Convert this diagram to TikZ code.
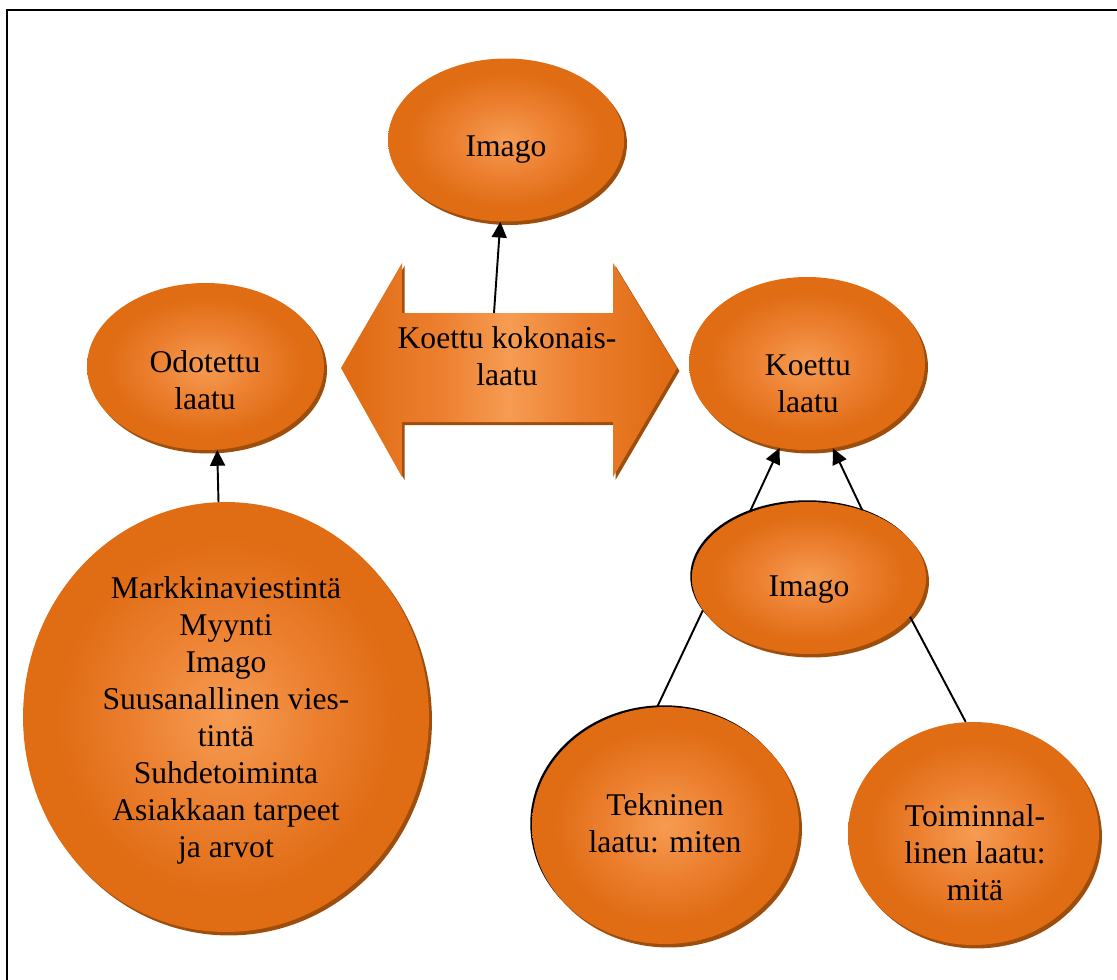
\documentclass[tikz,border=0pt]{standalone}
\usepackage{fontspec}
\setmainfont{Liberation Serif}
\usetikzlibrary{shapes.geometric,shadows,arrows.meta}

\definecolor{olight}{RGB}{246,156,82}
\definecolor{omid}{RGB}{236,128,48}
\definecolor{odark}{RGB}{224,108,20}
\definecolor{oshadow}{RGB}{158,78,12}

% light centre fading to a deep orange rim
\pgfdeclareradialshading{orangeball}{\pgfpoint{0bp}{0bp}}{%
  color(0bp)=(olight); color(11bp)=(omid); color(21bp)=(odark);
  color(25bp)=(odark); color(50bp)=(odark)}
% light middle, dark ends, for the two-way arrow
\pgfdeclarehorizontalshading{arrowglow}{100bp}{%
  color(0bp)=(odark); color(27bp)=(odark); color(40bp)=(omid);
  color(50bp)=(olight); color(60bp)=(omid); color(73bp)=(odark);
  color(100bp)=(odark)}

\begin{document}
\begin{tikzpicture}[x=0.02cm,y=-0.02cm,
  bubble/.style={ellipse, inner sep=0pt, shade, shading=orangeball,
    general shadow={fill=oshadow, shadow xshift=0.06cm, shadow yshift=-0.07cm}},
  inked/.style={general shadow={fill=black, shadow xshift=-0.035cm, shadow yshift=0.035cm}},
  bubbletext/.style={font=\fontsize{18}{21}\selectfont, align=center,
    inner sep=0pt, anchor=base},
  link/.style={line width=1.1pt, black},
  arrowlink/.style={link, -{Triangle[length=9pt,width=8.5pt]}}]

\useasboundingbox (0,0) rectangle (1117,980);
\clip (0,0) rectangle (1117,980);

% frame (runs off the page on the right and at the bottom)
\draw[line width=1pt] (7,10) rectangle (1140,1000);

% two-way arrow in the middle
\path[shade, shading=arrowglow,
      preaction={fill=oshadow, transform canvas={shift={(2.5,3)}}}]
  (341,368) -- (402,263) -- (402,313) -- (613,313) -- (613,263)
  -- (677,368) -- (613,477) -- (613,422) -- (402,422) -- (402,477) -- cycle;
\coordinate (shafttop) at (494,313);

% bubbles
\node[bubble, minimum width=4.72cm, minimum height=3.26cm] (imgtop)   at (506,140) {};
\node[bubble, minimum width=4.74cm, minimum height=3.34cm] (odot)     at (205.5,366.5) {};
\node[bubble, minimum width=8.12cm, minimum height=8.6cm]  (big)      at (226,717) {};
\node[bubble, minimum width=4.72cm, minimum height=3.46cm] (koettu)   at (807,363.5) {};
\node[bubble, inked, minimum width=4.68cm, minimum height=3.04cm] (imgright) at (809,578) {};
\node[bubble, inked, minimum width=5.34cm, minimum height=4.74cm] (tekn)     at (665.5,825.5) {};
\node[bubble, minimum width=5.02cm, minimum height=4.46cm] (toim)     at (973.5,833.5) {};

% texts (anchored on the baseline of their last line)
\node[bubbletext] (t-imgtop)   at (506,157) {Imago};
\node[bubbletext] (t-odot)     at (205,409) {Odotettu\\laatu};
\node[bubbletext] (t-arrow)    at (507,385) {Koettu kokonais-\\laatu};
\node[bubbletext] (t-koettu)   at (808,412) {Koettu\\laatu};
\node[bubbletext] (t-imgright) at (809,596) {Imago};
\node[bubbletext] (t-big)      at (226,857) {Markkinaviestintä\\Myynti\\Imago\\Suusanallinen vies-\\tintä\\Suhdetoiminta\\Asiakkaan tarpeet\\ja arvot};
\node[bubbletext] (t-tekn)     at (665,852) {Tekninen\\laatu: miten};
\node[bubbletext] (t-toim)     at (975,900) {Toiminnal-\\linen laatu:\\mitä};

% connectors
\draw[arrowlink] (shafttop) -- (imgtop);
\draw[arrowlink] (big.92.4) -- (odot.-82.2);
\draw[arrowlink] (imgright.132.3) -- (koettu.-108.7);
\draw[arrowlink] (imgright.52.1) -- (koettu.-73);
\draw[link] (imgright.-163.4) -- (tekn.94.1);
\draw[link] (imgright.-21.6) -- (toim.94.9);

\end{tikzpicture}
\end{document}
